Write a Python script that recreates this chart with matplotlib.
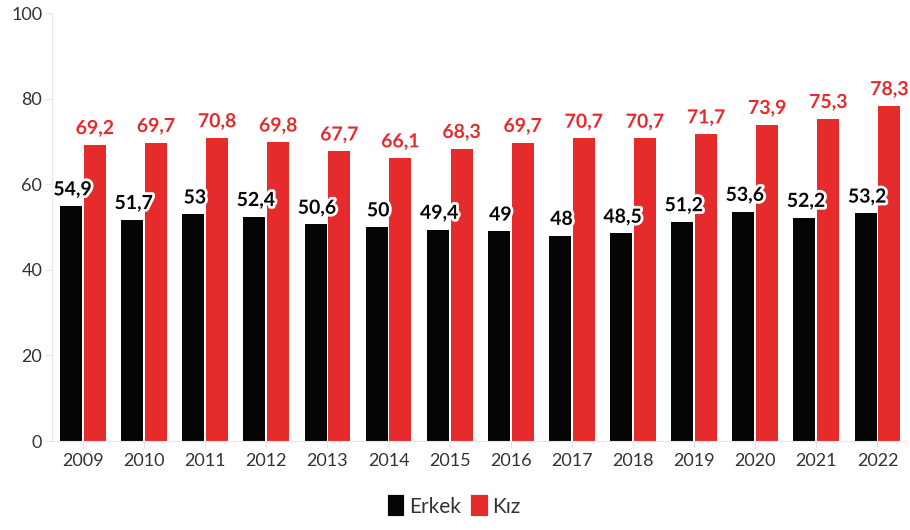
import matplotlib.pyplot as plt
import matplotlib.patheffects as pe
from matplotlib.patches import Patch
import numpy as np

# Veriler
yillar = ['2009', '2010', '2011', '2012', '2013', '2014', '2015',
          '2016', '2017', '2018', '2019', '2020', '2021', '2022']
erkek = [54.9, 51.7, 53, 52.4, 50.6, 50, 49.4, 49, 48, 48.5, 51.2, 53.6, 52.2, 53.2]
kiz = [69.2, 69.7, 70.8, 69.8, 67.7, 66.1, 68.3, 69.7, 70.7, 70.7, 71.7, 73.9, 75.3, 78.3]

plt.rcParams['font.family'] = ['Lato', 'DejaVu Sans']

siyah = '#050505'
kirmizi = '#e52b2b'
gri = '#e6e6e6'

fig = plt.figure(figsize=(9.1, 5.3), dpi=100)
ax = fig.add_axes([52 / 910, 89 / 530, 853 / 910, 428 / 530])

x = np.arange(len(yillar))
w = 0.36
ax.bar(x - w / 2 - 0.015, erkek, w, color=siyah)
ax.bar(x + w / 2 + 0.015, kiz, w, color=kirmizi)

stroke = [pe.withStroke(linewidth=4, foreground='white')]
for i in range(len(yillar)):
    ax.text(x[i] - w / 2 + 0.01, erkek[i] + 1.8, f'{erkek[i]:g}'.replace('.', ','),
            ha='center', va='bottom', fontsize=14, fontweight='bold',
            color=siyah, path_effects=stroke)
    ax.text(x[i] + w / 2 + 0.015, kiz[i] + 1.8, f'{kiz[i]:g}'.replace('.', ','),
            ha='center', va='bottom', fontsize=14, fontweight='bold',
            color=kirmizi, path_effects=stroke)

ax.set_xlim(-0.507, 13.45)
ax.set_ylim(0, 100)
ax.set_yticks([0, 20, 40, 60, 80, 100])
ax.set_xticks(x)
ax.set_xticklabels(yillar)
ax.tick_params(axis='both', labelsize=13, colors=gri, labelcolor='#333333', length=5)
ax.tick_params(axis='y', pad=2)

for s in ['top', 'right']:
    ax.spines[s].set_visible(False)
ax.spines['left'].set_color(gri)
ax.spines['bottom'].set_color(gri)

handles = [Patch(facecolor=siyah, edgecolor=siyah, linewidth=3, joinstyle='round', label='Erkek'),
           Patch(facecolor=kirmizi, edgecolor=kirmizi, linewidth=3, joinstyle='round', label='Kız')]
fig.legend(handles=handles, loc='lower center', bbox_to_anchor=(0.5, -0.01), ncol=2,
           frameon=False, fontsize=15, handlelength=0.6, handleheight=0.9,
           handletextpad=0.3, columnspacing=0.6, labelcolor='#333333')

fig.savefig('out.png', dpi=100)
